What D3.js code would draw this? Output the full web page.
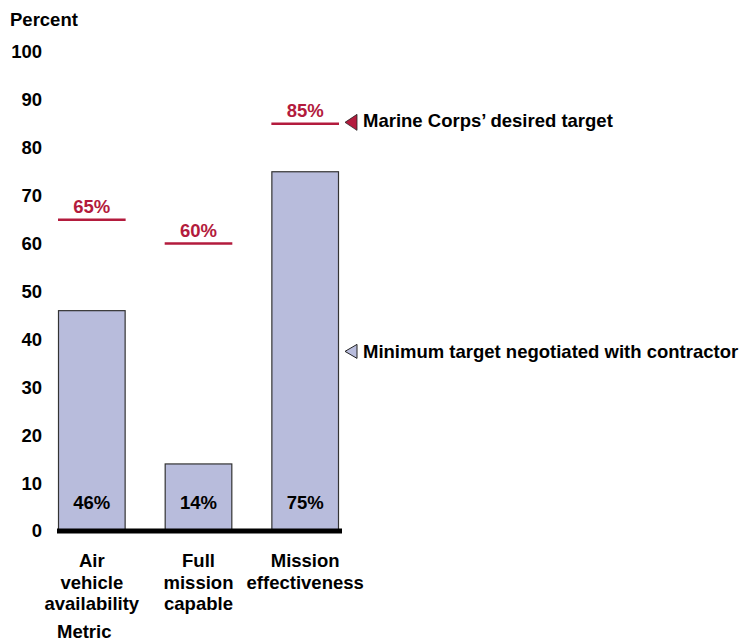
<!DOCTYPE html>
<html><head><meta charset="utf-8">
<script src="https://cdn.jsdelivr.net/npm/d3@7"></script>
<style>body{margin:0;background:#fff}svg{display:block}text{font-family:"Liberation Sans",Arial,sans-serif;font-weight:bold}</style>
</head><body>
<svg id="c" width="744" height="642"></svg>
<script>
const categories = [["Air","vehicle","availability"],["Full","mission","capable"],["Mission","effectiveness"]];
const actualValues = [46, 14, 75];
const targetValues = [65, 60, 85];
const yTicks = [0,10,20,30,40,50,60,70,80,90,100];
const legendLabels = ["Marine Corps\u2019 desired target","Minimum target negotiated with contractor"];

const FS = 18.5;
const svg = d3.select("#c");
const red = "#b31b3d", barFill = "#b8bcdc";
const y = d3.scaleLinear().domain([0,100]).range([531,52]);
const x = d3.scaleBand().domain(d3.range(categories.length)).range([58,339]).paddingInner(0.366).paddingOuter(0);

// y axis labels
const ax = svg.append("g").attr("transform","translate(42,0)")
  .call(d3.axisLeft(y).tickValues(yTicks).tickSize(0).tickPadding(0).tickFormat(d3.format("d")));
ax.select(".domain").remove();
ax.selectAll("text").attr("font-size",FS).attr("font-family","Liberation Sans, Arial, sans-serif").attr("font-weight","bold").attr("fill","#000");

svg.append("text").attr("x",10).attr("y",26).attr("font-size",FS).text("Percent");

// bars
svg.selectAll("rect.bar").data(actualValues).join("rect")
  .attr("x",(d,i)=>x(i)+0.5).attr("y",d=>y(d)).attr("width",x.bandwidth()-1).attr("height",d=>y(0)-y(d))
  .attr("fill",barFill).attr("stroke","#333").attr("stroke-width",1.2);
svg.selectAll("text.val").data(actualValues).join("text")
  .attr("x",(d,i)=>x(i)+x.bandwidth()/2).attr("y",509).attr("text-anchor","middle").attr("font-size",FS)
  .text(d=>d+"%");

// baseline
svg.append("line").attr("x1",57).attr("x2",342).attr("y1",y(0)).attr("y2",y(0)).attr("stroke","#000").attr("stroke-width",5);

// targets
svg.selectAll("line.tg").data(targetValues).join("line")
  .attr("x1",(d,i)=>x(i)).attr("x2",(d,i)=>x(i)+x.bandwidth())
  .attr("y1",d=>y(d)).attr("y2",d=>y(d)).attr("stroke",red).attr("stroke-width",2.5);
svg.selectAll("text.tg").data(targetValues).join("text")
  .attr("x",(d,i)=>x(i)+x.bandwidth()/2).attr("y",d=>y(d)-7).attr("text-anchor","middle")
  .attr("font-size",FS).attr("fill",red).text(d=>d+"%");

// category labels
categories.forEach((lines,i)=>{
  const cx = x(i)+x.bandwidth()/2;
  const t = svg.append("text").attr("x",cx).attr("y",567).attr("text-anchor","middle").attr("font-size",FS);
  lines.forEach((l,j)=>t.append("tspan").attr("x",cx).attr("dy",j?21.5:0).text(l));
});
svg.append("text").attr("x",57).attr("y",638).attr("font-size",FS).text("Metric");

// legend
const ly = [y(85)-1.5, y(37.5)];
const loff = [5, 6.5];
svg.append("path").attr("d",`M345,${ly[0]} L357,${ly[0]-8} L357,${ly[0]+8} Z`).attr("fill",red).attr("stroke","#222").attr("stroke-width",0.8);
svg.append("path").attr("d",`M345,${ly[1]} L357,${ly[1]-7} L357,${ly[1]+7} Z`).attr("fill",barFill).attr("stroke","#222").attr("stroke-width",1);
legendLabels.forEach((l,i)=>svg.append("text").attr("x",363).attr("y",ly[i]+loff[i]).attr("font-size",FS).text(l));
</script>
</body></html>
